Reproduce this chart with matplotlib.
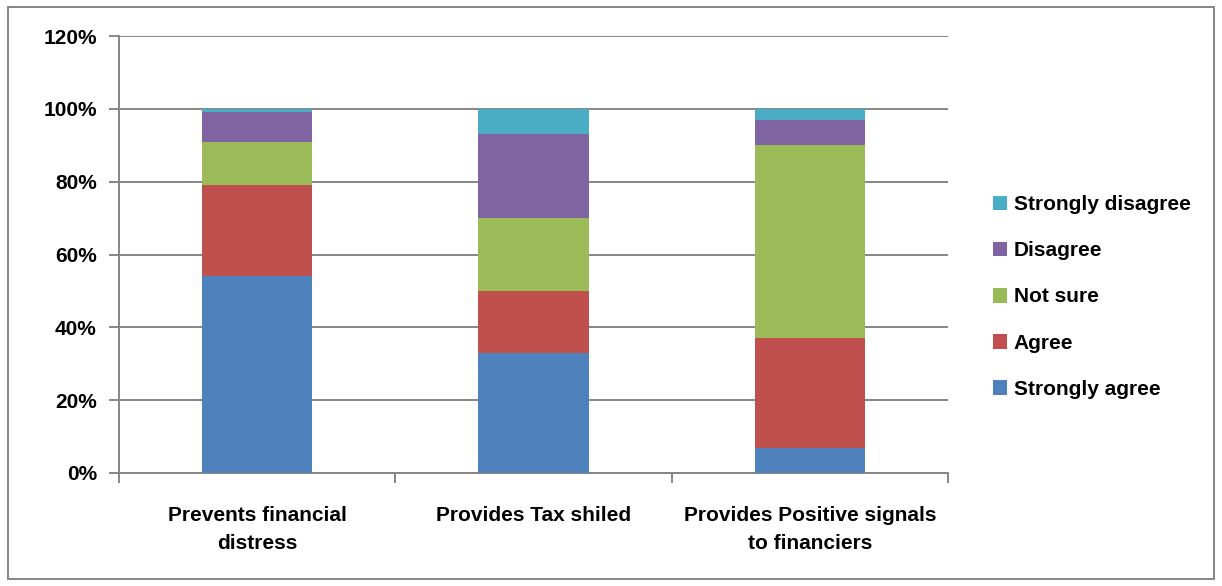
import numpy as np
import matplotlib.pyplot as plt
from matplotlib.patches import Rectangle

categories = ['Prevents financial\ndistress', 'Provides Tax shiled', 'Provides Positive signals\nto financiers']
responses = ['Strongly agree', 'Agree', 'Not sure', 'Disagree', 'Strongly disagree']
strongly_agree = [54, 33, 7]
agree = [25, 17, 30]
not_sure = [12, 20, 53]
disagree = [8, 23, 7]
strongly_disagree = [1, 7, 3]
colors = ['#4F81BD', '#C0504D', '#9BBB59', '#8064A2', '#4BACC6']

plt.rcParams['font.family'] = ['Liberation Sans', 'DejaVu Sans']
plt.rcParams['font.weight'] = 'bold'
fs = 15

fig = plt.figure(figsize=(12.22, 5.86), dpi=100)
ax = fig.add_axes([119/1222, 1-473/586, (948-119)/1222, (473-36)/586])

x = np.arange(len(categories))
bottom = np.zeros(len(categories))
handles = []
for vals, lab, c in zip([strongly_agree, agree, not_sure, disagree, strongly_disagree], responses, colors):
    b = ax.bar(x, vals, 0.4, bottom=bottom, color=c, label=lab, zorder=3)
    handles.append(b)
    bottom += np.array(vals)

ax.set_xlim(-0.5, 2.5)
ax.set_ylim(0, 120)
ax.set_yticks(np.arange(0, 121, 20))
ax.set_yticklabels(['%d%%' % v for v in range(0, 121, 20)], fontsize=fs, fontweight='bold')
ax.yaxis.grid(True, color='#868686', linewidth=1.4, zorder=0)
ax.set_xticks(x)
ax.set_xticklabels(categories, fontsize=fs, fontweight='bold', linespacing=1.55)
ax.tick_params(axis='x', length=0, pad=24)
ax.tick_params(axis='y', length=7, width=1.4, color='#868686', pad=9)
# category separators below the axis
ax.set_xticks([-0.5, 0.5, 1.5, 2.5], minor=True)
ax.tick_params(axis='x', which='minor', length=7, width=1.4, color='#868686')
for s in ['top', 'right']:
    ax.spines[s].set_visible(False)
for s in ['left', 'bottom']:
    ax.spines[s].set_color('#868686')
    ax.spines[s].set_linewidth(1.4)

fig.legend(handles[::-1], responses[::-1], loc='center left', bbox_to_anchor=(974/1222, 1-297/586),
           frameon=False, prop={'weight': 'bold', 'size': fs},
           handlelength=0.7, handleheight=0.7, handletextpad=0.3, labelspacing=1.3)

fig.patches.append(Rectangle((8/1222, 1-579/586), 1206/1222, 572/586, transform=fig.transFigure,
                             fill=False, edgecolor='#868686', linewidth=1.4))

fig.savefig('out.png', dpi=100)
